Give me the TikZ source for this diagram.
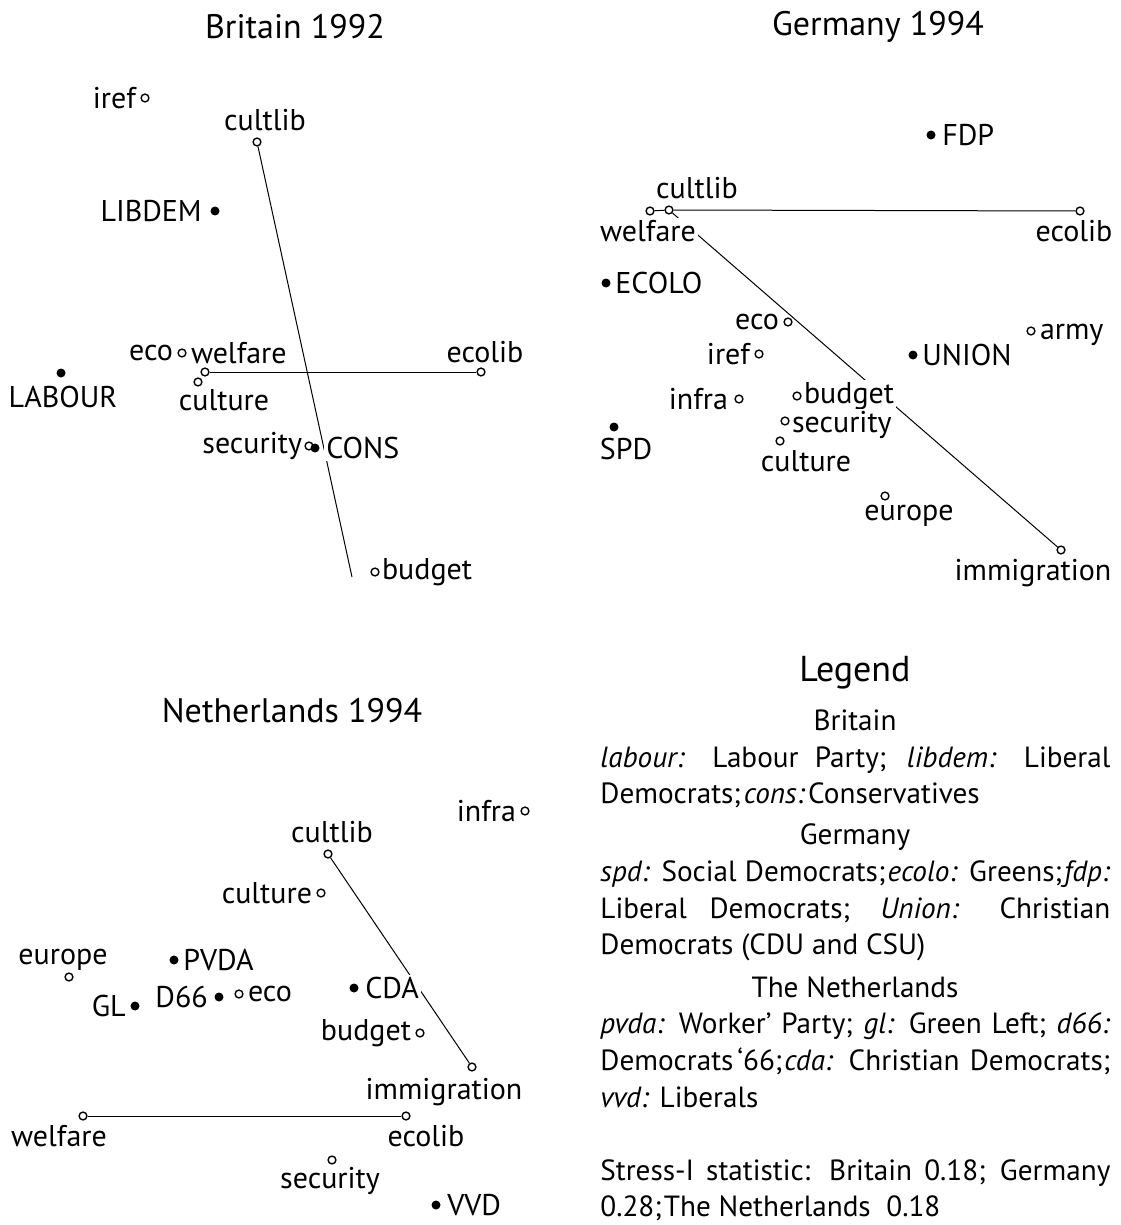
\documentclass[tikz,border=0pt]{standalone}
\usepackage{fontspec}
\setmainfont{PT Sans}
\usetikzlibrary{positioning}

\tikzset{
	item/.style={circle, draw, line width=0.7pt, fill=white, inner sep=0pt, minimum size=3.9pt},
	party/.style={circle, fill=black, inner sep=0pt, minimum size=4.5pt},
	txt/.style={font=\fontsize{15}{17}\selectfont, inner sep=1pt, fill=white},
	heading/.style={font=\fontsize{17}{20}\selectfont},
	dim/.style={line width=0.5pt},
	legline/.style={font=\fontsize{14.6}{17}\selectfont, anchor=base west, inner sep=0pt},
	leghead/.style={font=\fontsize{14.6}{17}\selectfont, anchor=base, inner sep=0pt},
}

\begin{document}
\begin{tikzpicture}[x=0.5pt, y=-0.5pt]
	\useasboundingbox (0,0) rectangle (1120,1225);
	
	% Panel titles
	\node[heading] (BTitle) at (295,27) {Britain 1992};
	\node[heading] (GTitle) at (878,27) {Germany 1994};
	\node[heading] (NTitle) at (292,711) {Netherlands 1994};
	
	%%%%%%%%%%%%%%%%%%%%%%%%%%%%%%%%%%%%%%%%%%%%%%%%%%%%%%%%%%%%%%
	% Britain 1992: points in pixel coordinates
	\node[item]  (B-iref)     at (145,98)  {};
	\node[item]  (B-cultlib)  at (257,142) {};
	\node[party] (B-libdem)   at (215,211) {};
	\node[item]  (B-eco)      at (182,353) {};
	\node[item]  (B-welfare)  at (205,372) {};
	\node[item]  (B-culture)  at (198,382) {};
	\node[party] (B-labour)   at (61,373)  {};
	\node[item]  (B-ecolib)   at (481,372) {};
	\node[item]  (B-security) at (309,446) {};
	\node[party] (B-cons)     at (315,448) {};
	\node[item]  (B-budget)   at (375,572) {};
	\coordinate  (B-end)      at (352,577);
	
	% Britain dimensions
	\draw[dim] (B-cultlib) -- (B-end);
	\draw[dim] (B-welfare) -- (B-ecolib);
	
	% Britain labels
	\node[txt, left=1pt of B-iref]                 (B-iref-t)     {iref};
	\node[txt, above=2pt of B-cultlib, xshift=4pt] (B-cultlib-t)  {cultlib};
	\node[txt, left=3pt of B-libdem]               (B-libdem-t)   {LIBDEM};
	\node[txt, left=1pt of B-eco]                  (B-eco-t)      {eco};
	\node[txt, right=1pt of B-eco]                 (B-welfare-t)  {welfare};
	\node[txt, below=0pt of B-culture, xshift=13pt] (B-culture-t) {culture};
	\node[txt, below=3pt of B-labour, xshift=1pt]  (B-labour-t)   {LABOUR};
	\node[txt, above=1pt of B-ecolib, xshift=2pt]  (B-ecolib-t)   {ecolib};
	\node[txt, left=0pt of B-security]             (B-security-t) {security};
	\node[txt, right=2pt of B-cons]                (B-cons-t)     {CONS};
	\node[txt, right=0pt of B-budget]              (B-budget-t)   {budget};
	
	%%%%%%%%%%%%%%%%%%%%%%%%%%%%%%%%%%%%%%%%%%%%%%%%%%%%%%%%%%%%%%
	% Germany 1994
	\node[party] (G-fdp)         at (931,135)  {};
	\node[item]  (G-welfare)     at (650,211)  {};
	\node[item]  (G-cultlib)     at (669,210)  {};
	\node[item]  (G-ecolib)      at (1080,211) {};
	\node[party] (G-ecolo)       at (606,283)  {};
	\node[item]  (G-eco)         at (788,322)  {};
	\node[item]  (G-iref)        at (759,354)  {};
	\node[item]  (G-army)        at (1031,331) {};
	\node[party] (G-union)       at (913,355)  {};
	\node[item]  (G-infra)       at (739,399)  {};
	\node[item]  (G-budget)      at (797,396)  {};
	\node[item]  (G-security)    at (785,421)  {};
	\node[item]  (G-culture)     at (780,441)  {};
	\node[party] (G-spd)         at (614,427)  {};
	\node[item]  (G-europe)      at (885,496)  {};
	\node[item]  (G-immigration) at (1061,550) {};
	
	% Germany dimensions
	\draw[dim] (G-welfare) -- (G-cultlib) -- (G-ecolib);
	\draw[dim] (G-cultlib) -- (G-immigration);
	
	% Germany labels
	\node[txt, right=2pt of G-fdp]                    (G-fdp-t)         {FDP};
	\node[txt, below=1pt of G-welfare, xshift=-1pt]   (G-welfare-t)     {welfare};
	\node[txt, above=2pt of G-cultlib, xshift=14pt]   (G-cultlib-t)     {cultlib};
	\node[txt, below=1pt of G-ecolib, xshift=-3pt]    (G-ecolib-t)      {ecolib};
	\node[txt, right=1pt of G-ecolo]                  (G-ecolo-t)       {ECOLO};
	\node[txt, left=1pt of G-eco]                     (G-eco-t)         {eco};
	\node[txt, left=1pt of G-iref]                    (G-iref-t)        {iref};
	\node[txt, right=1pt of G-army, yshift=-2pt]      (G-army-t)        {army};
	\node[txt, right=1pt of G-union]                  (G-union-t)       {UNION};
	\node[txt, left=2pt of G-infra]                   (G-infra-t)       {infra};
	\node[txt, right=0pt of G-budget]                 (G-budget-t)      {budget};
	\node[txt, right=0pt of G-security, yshift=-2pt]  (G-security-t)    {security};
	\node[txt, below=1pt of G-culture, xshift=13pt]   (G-culture-t)     {culture};
	\node[txt, below=2pt of G-spd, xshift=6pt]        (G-spd-t)         {SPD};
	\node[txt, below=1pt of G-europe, xshift=12pt]    (G-europe-t)      {europe};
	\node[txt, below=1pt of G-immigration, xshift=-14pt] (G-immigration-t) {immigration};
	
	%%%%%%%%%%%%%%%%%%%%%%%%%%%%%%%%%%%%%%%%%%%%%%%%%%%%%%%%%%%%%%
	% Netherlands 1994
	\node[item]  (N-infra)       at (525,811)  {};
	\node[item]  (N-cultlib)     at (328,854)  {};
	\node[item]  (N-culture)     at (321,893)  {};
	\node[item]  (N-europe)      at (69,977)   {};
	\node[party] (N-pvda)        at (174,960)  {};
	\node[party] (N-gl)          at (135,1006) {};
	\node[party] (N-d66)         at (219,997)  {};
	\node[item]  (N-eco)         at (239,994)  {};
	\node[party] (N-cda)         at (354,988)  {};
	\node[item]  (N-budget)      at (420,1033) {};
	\node[item]  (N-immigration) at (472,1067) {};
	\node[item]  (N-welfare)     at (83,1116)  {};
	\node[item]  (N-ecolib)      at (406,1116) {};
	\node[item]  (N-security)    at (332,1160) {};
	\node[party] (N-vvd)         at (436,1205) {};
	
	% Netherlands dimensions
	\draw[dim] (N-cultlib) -- (N-immigration);
	\draw[dim] (N-welfare) -- (N-ecolib);
	
	% Netherlands labels
	\node[txt, left=1pt of N-infra]                    (N-infra-t)       {infra};
	\node[txt, above=2pt of N-cultlib, xshift=2pt]     (N-cultlib-t)     {cultlib};
	\node[txt, left=1pt of N-culture]                  (N-culture-t)     {culture};
	\node[txt, above=0pt of N-europe, xshift=-3pt]     (N-europe-t)      {europe};
	\node[txt, right=1pt of N-pvda]                    (N-pvda-t)        {PVDA};
	\node[txt, left=1pt of N-gl]                       (N-gl-t)          {GL};
	\node[txt, left=2pt of N-d66]                      (N-d66-t)         {D66};
	\node[txt, right=1pt of N-eco]                     (N-eco-t)         {eco};
	\node[txt, right=2pt of N-cda]                     (N-cda-t)         {CDA};
	\node[txt, left=1pt of N-budget]                   (N-budget-t)      {budget};
	\node[txt, below=2pt of N-immigration, xshift=-14pt] (N-immigration-t) {immigration};
	\node[txt, below=1pt of N-welfare, xshift=-12pt]   (N-welfare-t)     {welfare};
	\node[txt, below=1pt of N-ecolib, xshift=10pt]     (N-ecolib-t)      {ecolib};
	\node[txt, below=0pt of N-security, xshift=-1pt]   (N-security-t)    {security};
	\node[txt, right=2pt of N-vvd]                     (N-vvd-t)         {VVD};
	
	%%%%%%%%%%%%%%%%%%%%%%%%%%%%%%%%%%%%%%%%%%%%%%%%%%%%%%%%%%%%%%
	% Legend
	\node[heading, font=\fontsize{18}{21}\selectfont] (LTitle) at (855,673) {Legend};
	\node[leghead] (L-britain) at (855,730) {Britain};
	\node[legline] (L1) at (600,767)  {\makebox[255pt][s]{\textit{labour:} Labour Party; \textit{libdem:} Liberal}};
	\node[legline] (L2) at (600,803)  {Democrats;\kern1.5pt\textit{cons:}\kern1.5pt Conservatives};
	\node[leghead] (L-germany) at (855,844) {Germany};
	\node[legline] (L3) at (600,881)  {\makebox[255pt][s]{\textit{spd:} Social Democrats;\kern1pt\textit{ecolo:} Greens;\kern1pt\textit{fdp:}}};
	\node[legline] (L4) at (600,918)  {\makebox[255pt][s]{Liberal Democrats; \textit{Union:} Christian}};
	\node[legline] (L5) at (600,954)  {Democrats (CDU and CSU)};
	\node[leghead] (L-nl) at (855,997) {The Netherlands};
	\node[legline] (L6) at (600,1033) {\makebox[255pt][s]{\textit{pvda:} Worker' Party; \textit{gl:} Green Left; \textit{d66:}}};
	\node[legline] (L7) at (600,1070) {\makebox[255pt][s]{Democrats\kern2pt`66;\kern1pt\textit{cda:} Christian Democrats;}};
	\node[legline] (L8) at (600,1107) {\textit{vvd:} Liberals};
	\node[legline] (L9) at (600,1180) {\makebox[255pt][s]{Stress-I statistic: Britain 0.18; Germany}};
	\node[legline] (L10) at (600,1216) {0.28;\kern1pt The Netherlands\ \ 0.18};
	
\end{tikzpicture}
\end{document}
